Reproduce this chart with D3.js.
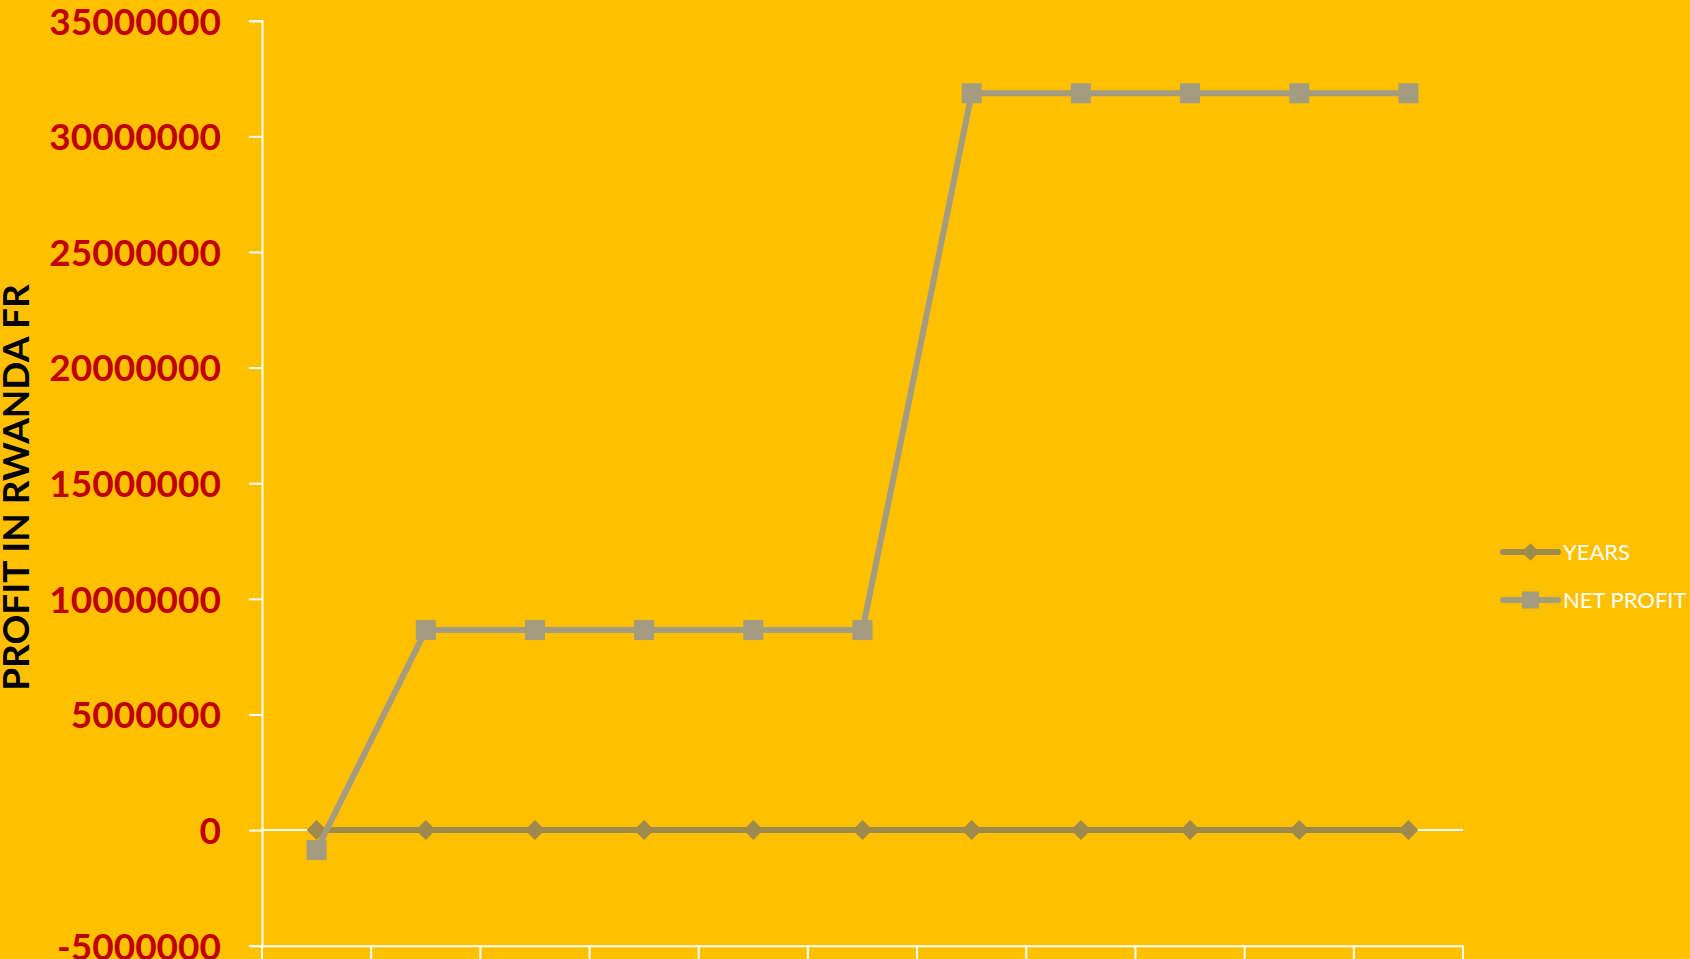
<!DOCTYPE html>
<html>
<head>
<meta charset="utf-8">
<script src="https://cdn.jsdelivr.net/npm/d3@7"></script>
<style>
  html, body { margin: 0; padding: 0; background: #FFC000; overflow: hidden; }
  svg { display: block; }
</style>
</head>
<body>
<div id="chart"></div>
<script>
const years = [0, 1, 2, 3, 4, 5, 6, 7, 8, 9, 10];
const netProfit = [-865000, 8650000, 8650000, 8650000, 8650000, 8650000,
                   31860000, 31860000, 31860000, 31860000, 31860000];
const yTicks = [-5000000, 0, 5000000, 10000000, 15000000, 20000000, 25000000, 30000000, 35000000];
const seriesNames = ["YEARS", "NET PROFIT"];

const width = 1690, height = 959;
const svg = d3.select("#chart").append("svg")
  .attr("width", width)
  .attr("height", height)
  .style("background", "#FFC000");

const x = d3.scaleBand().domain(years).range([262, 1463]).padding(0);
const y = d3.scaleLinear().domain([-5000000, 35000000]).range([945.7, 20.7]);

const yearsColor = "#9E8A4C", profitColor = "#A39C80";

// y axis
const yAxis = svg.append("g")
  .attr("transform", "translate(262,0)")
  .call(d3.axisLeft(y).tickValues(yTicks).tickSize(13).tickFormat(d => String(d)));
yAxis.select(".domain").attr("stroke", "#fff").attr("stroke-width", 2);
yAxis.selectAll(".tick line").attr("stroke", "#fff").attr("stroke-width", 2);
yAxis.selectAll(".tick text")
  .attr("x", -41)
  .attr("dy", "0.36em")
  .attr("fill", "#C00000")
  .style("font-family", "Lato, 'Open Sans', sans-serif")
  .style("font-weight", "bold")
  .style("font-size", "37px");

// horizontal line at zero
svg.append("line")
  .attr("x1", 262).attr("x2", 1463)
  .attr("y1", y(0)).attr("y2", y(0))
  .attr("stroke", "#fff").attr("stroke-width", 2);

// category axis at the bottom
const xAxis = svg.append("g")
  .attr("transform", `translate(0,${y(-5000000)})`)
  .call(d3.axisBottom(x).tickSize(0).tickFormat(""));
xAxis.select(".domain").attr("stroke", "#fff").attr("stroke-width", 2);
const bounds = years.map(d => x(d)).concat([x(years[years.length - 1]) + x.bandwidth()]);
xAxis.selectAll(".btick").data(bounds).enter().append("line")
  .attr("x1", d => d).attr("x2", d => d)
  .attr("y1", 0).attr("y2", 14)
  .attr("stroke", "#fff").attr("stroke-width", 2);

// axis title
svg.append("text")
  .attr("transform", `translate(29,${(283 + 692) / 2}) rotate(-90)`)
  .attr("text-anchor", "middle")
  .attr("fill", "#000")
  .style("font-family", "Lato, 'Open Sans', sans-serif")
  .style("font-weight", "bold")
  .style("font-size", "37px")
  .text("PROFIT IN RWANDA FR");

const cx = i => x(years[i]) + x.bandwidth() / 2;
const line = d3.line().x((d, i) => cx(i)).y(d => y(d));

// YEARS series
svg.append("path")
  .datum(years)
  .attr("d", line)
  .attr("fill", "none")
  .attr("stroke", yearsColor)
  .attr("stroke-width", 6)
  .attr("stroke-linejoin", "round");
svg.selectAll(".yr").data(years).enter().append("path")
  .attr("transform", (d, i) => `translate(${cx(i)},${y(d)}) rotate(45)`)
  .attr("d", d3.symbol().type(d3.symbolSquare).size(200))
  .attr("fill", yearsColor);

// NET PROFIT series
svg.append("path")
  .datum(netProfit)
  .attr("d", line)
  .attr("fill", "none")
  .attr("stroke", profitColor)
  .attr("stroke-width", 6)
  .attr("stroke-linejoin", "round");
svg.selectAll(".np").data(netProfit).enter().append("rect")
  .attr("x", (d, i) => cx(i) - 10)
  .attr("y", d => y(d) - 10)
  .attr("width", 20).attr("height", 20)
  .attr("fill", profitColor);

// legend
const legend = svg.append("g").attr("transform", "translate(1503,552)");
seriesNames.forEach((name, i) => {
  const g = legend.append("g").attr("transform", `translate(0,${i * 48})`);
  const c = i === 0 ? yearsColor : profitColor;
  g.append("line")
    .attr("x1", 0).attr("x2", 55).attr("y1", 0).attr("y2", 0)
    .attr("stroke", c).attr("stroke-width", 6).attr("stroke-linecap", "round");
  if (i === 0) {
    g.append("path")
      .attr("transform", "translate(27.5,0) rotate(45)")
      .attr("d", d3.symbol().type(d3.symbolSquare).size(150))
      .attr("fill", c);
  } else {
    g.append("rect").attr("x", 19).attr("y", -8.5).attr("width", 17).attr("height", 17).attr("fill", c);
  }
  g.append("text")
    .attr("x", 60).attr("y", 0).attr("dy", "0.36em")
    .attr("fill", "#fff")
    .style("font-family", "Lato, 'Open Sans', sans-serif")
    .style("font-size", "22px")
    .text(name);
});
</script>
</body>
</html>
